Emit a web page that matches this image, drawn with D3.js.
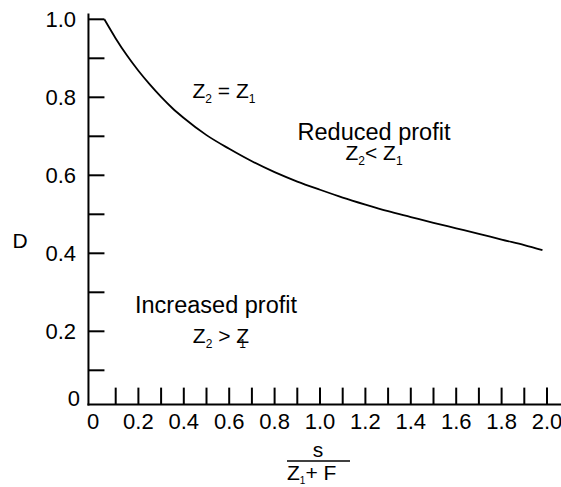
<!DOCTYPE html>
<html>
<head>
<meta charset="utf-8">
<script src="https://cdn.jsdelivr.net/npm/d3@7"></script>
<style>
  body { margin: 0; background: #fff; }
  text { font-family: "Liberation Sans", Arial, sans-serif; fill: #000; }
</style>
</head>
<body>
<svg id="chart"></svg>
<script>
const WIDTH = 561;
const HEIGHT = 487;

// curve: s/(Z1+F) against D
const sValues = [0.05, 0.1, 0.15, 0.2, 0.25, 0.3, 0.35, 0.4, 0.5, 0.6, 0.7, 0.8, 0.9, 1.0,
                 1.1, 1.2, 1.3, 1.4, 1.5, 1.6, 1.7, 1.8, 1.9, 1.98];
const dValues = [1.0, 0.951, 0.907, 0.868, 0.833, 0.801, 0.772, 0.747, 0.703, 0.668, 0.636, 0.608, 0.584, 0.563,
                 0.543, 0.525, 0.508, 0.493, 0.478, 0.464, 0.45, 0.435, 0.421, 0.408];

const xTicks = [0.1, 0.2, 0.3, 0.4, 0.5, 0.6, 0.7, 0.8, 0.9, 1.0, 1.1, 1.2, 1.3, 1.4, 1.5, 1.6, 1.7, 1.8, 1.9, 2.0];
const xTickLabels = [0, 0.2, 0.4, 0.6, 0.8, 1.0, 1.2, 1.4, 1.6, 1.8, 2.0];
const yTicks = [0.1, 0.2, 0.3, 0.4, 0.5, 0.6, 0.7, 0.8, 0.9, 1.0];
const yTickLabels = [0, 0.2, 0.4, 0.6, 0.8, 1.0];

const data = sValues.map((s, i) => ({ s: s, d: dValues[i] }));

const svg = d3.select('#chart').attr('width', WIDTH).attr('height', HEIGHT);

const x = d3.scaleLinear().domain([0, 2]).range([93, 547]);
const y = d3.scaleLinear().domain([0, 1]).range([409.3, 19.3]);

const axisX = x(-0.02);   // y axis line sits a little left of s = 0
const axisY = y(0.012);   // x axis line sits a little above D = 0

// axis lines
svg.append('line')
    .attr('x1', axisX).attr('x2', axisX)
    .attr('y1', y(1.015)).attr('y2', axisY + 1)
    .attr('stroke', '#000').attr('stroke-width', 2);
svg.append('line')
    .attr('x1', axisX - 1).attr('x2', WIDTH)
    .attr('y1', axisY).attr('y2', axisY)
    .attr('stroke', '#000').attr('stroke-width', 2);

// ticks
svg.selectAll('.ytick').data(yTicks).join('line')
    .attr('class', 'ytick')
    .attr('x1', axisX).attr('x2', axisX + 16)
    .attr('y1', d => y(d)).attr('y2', d => y(d))
    .attr('stroke', '#000').attr('stroke-width', 2);
svg.selectAll('.xtick').data(xTicks).join('line')
    .attr('class', 'xtick')
    .attr('x1', d => x(d)).attr('x2', d => x(d))
    .attr('y1', axisY).attr('y2', axisY - 17)
    .attr('stroke', '#000').attr('stroke-width', 2);

// tick labels
svg.selectAll('.ylab').data(yTickLabels).join('text')
    .attr('class', 'ylab')
    .attr('x', d => d === 0 ? 80 : 76)
    .attr('y', d => d === 0 ? axisY - 7 : y(d))
    .attr('dy', '0.36em')
    .attr('text-anchor', 'end')
    .style('font-size', '22px')
    .text(d => d === 0 ? '0' : d.toFixed(1));
svg.selectAll('.xlab').data(xTickLabels).join('text')
    .attr('class', 'xlab')
    .attr('x', d => x(d))
    .attr('y', axisY + 24)
    .attr('text-anchor', 'middle')
    .style('font-size', '22px')
    .text(d => d === 0 ? '0' : d.toFixed(1));

// the curve
const line = d3.line()
    .x(d => x(d.s))
    .y(d => y(d.d))
    .curve(d3.curveMonotoneX);
svg.append('path')
    .datum(data)
    .attr('d', line)
    .attr('fill', 'none')
    .attr('stroke', '#000')
    .attr('stroke-width', 1.8);

// axis titles
svg.append('text')
    .attr('x', 20).attr('y', 248)
    .attr('text-anchor', 'middle')
    .style('font-size', '21px')
    .text('D');

svg.append('text')
    .attr('x', 318).attr('y', 457)
    .attr('text-anchor', 'middle')
    .style('font-size', '21px')
    .text('s');
svg.append('line')
    .attr('x1', 287).attr('x2', 350)
    .attr('y1', 461).attr('y2', 461)
    .attr('stroke', '#000').attr('stroke-width', 1.5);
const den = svg.append('text')
    .attr('x', 287).attr('y', 480)
    .style('font-size', '21px');
den.append('tspan').text('Z');
den.append('tspan').attr('dy', 4).style('font-size', '10px').text('1');
den.append('tspan').attr('dy', -4).text('+ F');

// annotations
function zText(g, xPos, yPos, parts) {
    const t = g.append('text')
        .attr('x', xPos).attr('y', yPos)
        .attr('text-anchor', 'middle')
        .style('font-size', '21px');
    parts.forEach(p => {
        const ts = t.append('tspan').text(p.t);
        if (p.sub) ts.attr('dy', 5).style('font-size', '12px');
        if (p.up) ts.attr('dy', -5);
        if (p.dx) ts.attr('dx', p.dx);
    });
    return t;
}

zText(svg, 224, 98, [{ t: 'Z' }, { t: '2', sub: true }, { t: ' = Z', up: true }, { t: '1', sub: true }]);

svg.append('text')
    .attr('x', 374).attr('y', 140)
    .attr('text-anchor', 'middle')
    .style('font-size', '23.5px')
    .text('Reduced profit');
zText(svg, 374, 160, [{ t: 'Z' }, { t: '2', sub: true }, { t: '< Z', up: true }, { t: '1', sub: true }]);

svg.append('text')
    .attr('x', 216).attr('y', 313)
    .attr('text-anchor', 'middle')
    .style('font-size', '23.5px')
    .text('Increased profit');
zText(svg, 221, 343, [{ t: 'Z' }, { t: '2', sub: true }, { t: ' > Z', up: true }, { t: '1', sub: true, dx: -10 }]);
</script>
</body>
</html>
